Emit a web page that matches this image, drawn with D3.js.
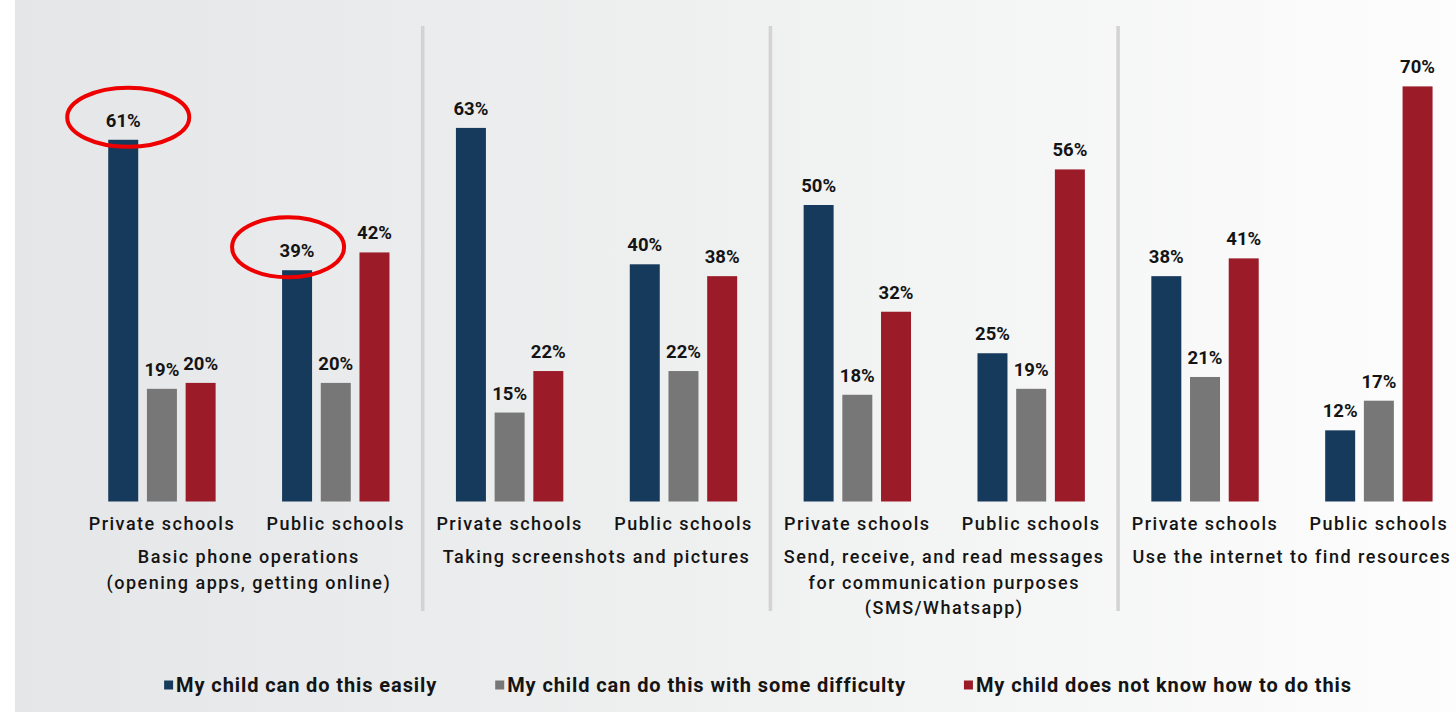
<!DOCTYPE html>
<html>
<head>
<meta charset="utf-8">
<script src="https://cdn.jsdelivr.net/npm/d3@7"></script>
<style>
  html, body { margin: 0; padding: 0; background: #ffffff; }
  svg { display: block; }
  text { font-family: Roboto, "DejaVu Sans", sans-serif; fill: #141414; }
</style>
</head>
<body>
<svg id="chart" width="1456" height="712"></svg>
<script>
// Skill categories (multi-line titles split on "\n")
const groups = [
  "Basic phone operations\n(opening apps, getting online)",
  "Taking screenshots and pictures",
  "Send, receive, and read messages\nfor communication purposes\n(SMS/Whatsapp)",
  "Use the internet to find resources"
];
const schools = ["Private schools", "Public schools"];
const seriesNames = [
  "My child can do this easily",
  "My child can do this with some difficulty",
  "My child does not know how to do this"
];
// Percent of parents per answer, ordered [group][school] -> one value per series
const easily      = [[61, 39], [63, 40], [50, 25], [38, 12]];
const difficulty  = [[19, 20], [15, 22], [18, 19], [21, 17]];
const doesNotKnow = [[20, 42], [22, 38], [32, 56], [41, 70]];
// Values circled in the chart: [group index, school index, series index]
const highlighted = [[0, 0, 0], [0, 1, 0]];

const seriesValues = [easily, difficulty, doesNotKnow];
const colors = ["#163a5c", "#777777", "#9b1c28"];

const svg = d3.select("#chart");
const W = 1456, H = 712;

// Background: white margin on the left, soft grey fading to white toward the right
const defs = svg.append("defs");
const grad = defs.append("linearGradient").attr("id", "bg")
  .attr("x1", "0%").attr("x2", "100%").attr("y1", "0%").attr("y2", "0%");
grad.append("stop").attr("offset", "0%").attr("stop-color", "#e5e6e8");
grad.append("stop").attr("offset", "45%").attr("stop-color", "#eeefef");
grad.append("stop").attr("offset", "100%").attr("stop-color", "#fdfdfd");
svg.append("rect").attr("x", 0).attr("y", 0).attr("width", W).attr("height", H).attr("fill", "#ffffff");
svg.append("rect").attr("x", 15).attr("y", 0).attr("width", W - 15).attr("height", H).attr("fill", "url(#bg)");

// Scales
const groupStep = 347.7;
const x0 = d3.scaleBand().domain(d3.range(groups.length))
  .range([75, 75 + groupStep * groups.length]);
const x1 = d3.scaleBand().domain(d3.range(schools.length)).range([0, x0.bandwidth()]);
const barStep = 38.7;
const x2 = d3.scaleBand().domain(d3.range(seriesNames.length))
  .range([-barStep * 1.5, barStep * 1.5])
  .paddingInner(0.225).paddingOuter(0.1125);
const y = d3.scaleLinear().domain([0, 100]).range([501.5, 501.5 - 593]);

// Flatten into bar records
const bars = [];
groups.forEach((g, gi) => schools.forEach((s, si) => seriesNames.forEach((n, ki) => {
  bars.push({ gi, si, ki, value: seriesValues[ki][gi][si] });
})));
const cx = d => x0(d.gi) + x1(d.si) + x1.bandwidth() / 2;

// Separators between categories
svg.append("g").selectAll("line")
  .data(d3.range(1, groups.length))
  .join("line")
  .attr("x1", i => x0(i)).attr("x2", i => x0(i))
  .attr("y1", 26).attr("y2", 611)
  .attr("stroke", "#d3d2d4").attr("stroke-width", 3.5);

// Bars
svg.append("g").selectAll("rect")
  .data(bars)
  .join("rect")
  .attr("x", d => cx(d) + x2(d.ki))
  .attr("width", x2.bandwidth())
  .attr("y", d => y(d.value))
  .attr("height", d => y(0) - y(d.value))
  .attr("fill", d => colors[d.ki]);

// Value labels
svg.append("g").selectAll("text")
  .data(bars)
  .join("text")
  .attr("x", d => cx(d) + x2(d.ki) + x2.bandwidth() / 2)
  .attr("y", d => y(d.value) - 13)
  .attr("text-anchor", "middle")
  .style("font-size", "18.5px").style("font-weight", 700)
  .text(d => d.value + "%");

// School labels under each cluster
const schoolLabels = [];
groups.forEach((g, gi) => schools.forEach((s, si) => schoolLabels.push({ gi, si, s })));
svg.append("g").selectAll("text")
  .data(schoolLabels)
  .join("text")
  .attr("x", d => x0(d.gi) + x1(d.si) + x1.bandwidth() / 2)
  .attr("y", 530)
  .attr("text-anchor", "middle")
  .style("font-size", "18px").style("font-weight", 500).style("letter-spacing", "1.5px")
  .text(d => d.s);

// Category titles
const titles = svg.append("g").selectAll("text")
  .data(groups.map((g, gi) => ({ gi, lines: g.split("\n") })))
  .join("text")
  .attr("text-anchor", "middle")
  .style("font-size", "18px").style("font-weight", 500).style("letter-spacing", "1.5px");
titles.selectAll("tspan")
  .data(d => d.lines.map((l, li) => ({ l, li, gi: d.gi })))
  .join("tspan")
  .attr("x", d => x0(d.gi) + x0.bandwidth() / 2)
  .attr("y", d => 563 + d.li * 25.5)
  .text(d => d.l);

// Red circles around highlighted values
const hlOffset = [[5, -3], [-9, -3.5]];
const hlRadius = [[61, 29.5], [56, 30]];
svg.append("g").selectAll("ellipse")
  .data(highlighted.map(([gi, si, ki], i) => ({ gi, si, ki, i, value: seriesValues[ki][gi][si] })))
  .join("ellipse")
  .attr("cx", d => cx(d) + x2(d.ki) + x2.bandwidth() / 2 + hlOffset[d.i][0])
  .attr("cy", d => y(d.value) - 19.5 + hlOffset[d.i][1])
  .attr("rx", d => hlRadius[d.i][0])
  .attr("ry", d => hlRadius[d.i][1])
  .attr("fill", "none")
  .attr("stroke", "#ee0000")
  .attr("stroke-width", 4);

// Legend, laid out left to right with equal gaps and centred
const legend = svg.append("g");
const items = legend.selectAll("g").data(seriesNames).join("g");
items.append("rect")
  .attr("width", 9).attr("height", 9).attr("y", -4.5)
  .attr("fill", (d, i) => colors[i]);
items.append("text")
  .attr("x", 12).attr("y", 0).attr("dy", "0.35em")
  .style("font-size", "20px").style("font-weight", 700).style("letter-spacing", "0.9px")
  .text(d => d);
let off = 0;
const gap = 58;
items.each(function () {
  const w = this.getBBox().width;
  d3.select(this).attr("transform", `translate(${off},0)`);
  off += w + gap;
});
const total = off - gap;
legend.attr("transform", `translate(${758 - total / 2},685)`);
</script>
</body>
</html>
